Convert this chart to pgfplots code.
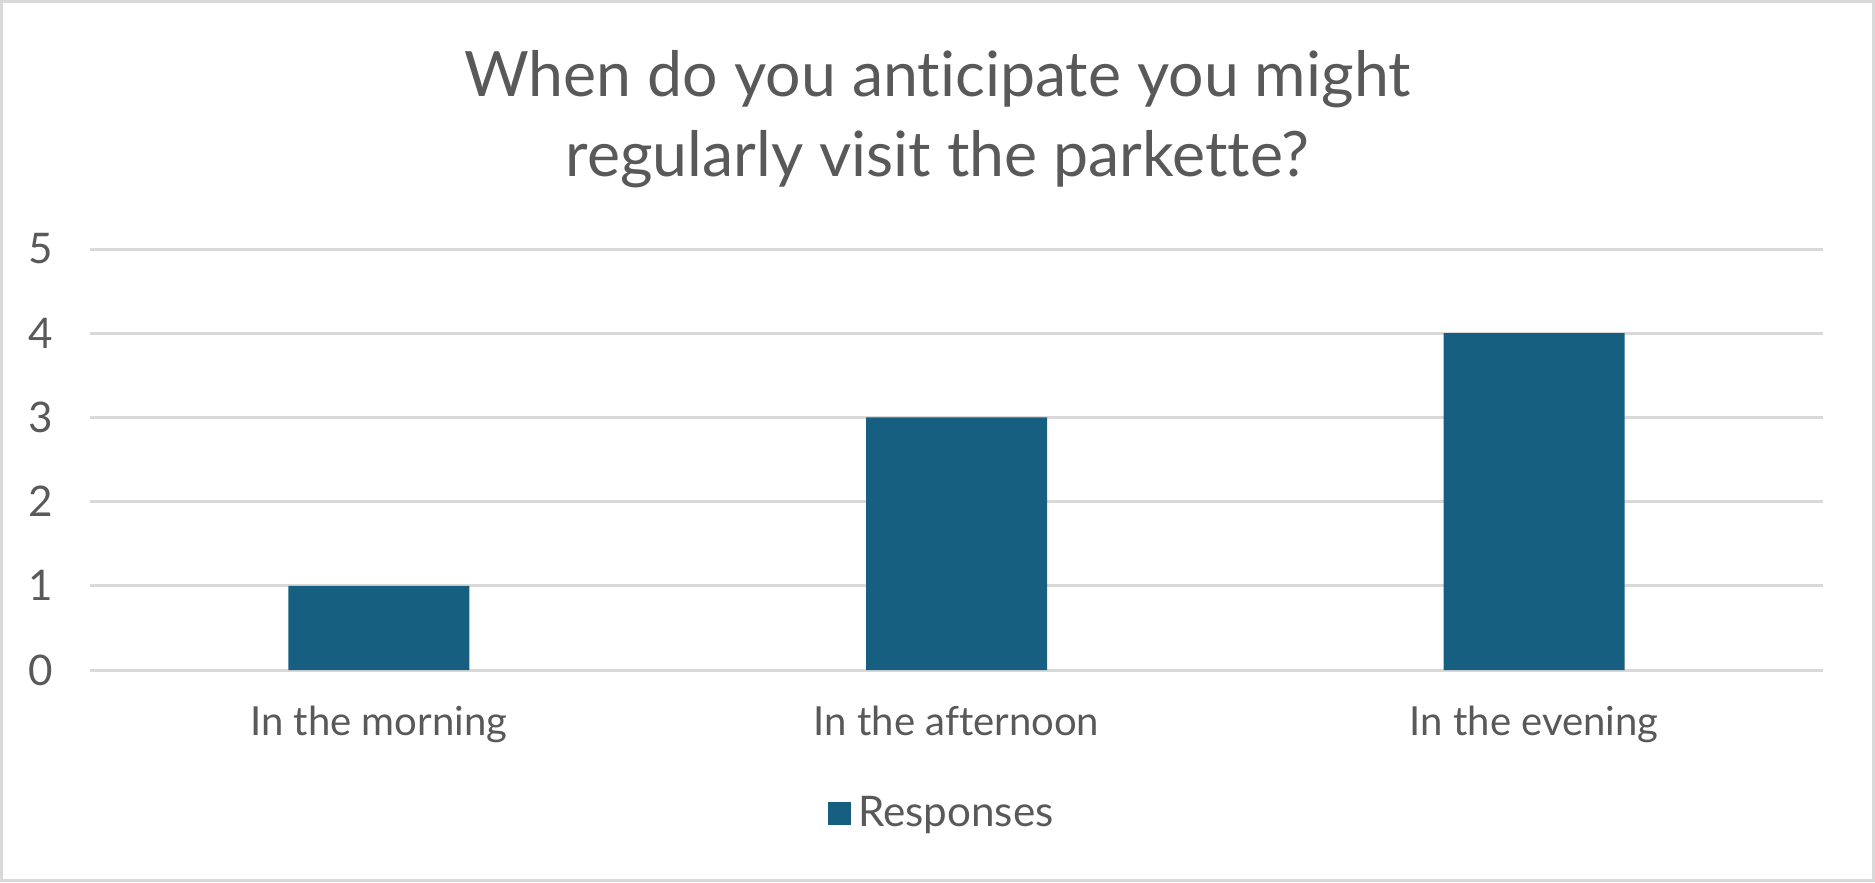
\documentclass[border=0pt]{standalone}
\usepackage{pgfplots}
\pgfplotsset{compat=1.18}
\usepackage{fontspec}
\setmainfont{Lato}[Ligatures=NoCommon]
\definecolor{barblue}{HTML}{175F80}
\definecolor{txtgray}{HTML}{595959}
\definecolor{gridgray}{HTML}{D9D9D9}
\begin{document}
\begin{tikzpicture}[x=1cm,y=1cm]
    % chart frame, 1px = 0.01cm
    \useasboundingbox (0,0) rectangle (18.75,8.82);
    \draw[gridgray, line width=0.03cm] (0.015,0.015) rectangle (18.735,8.805);

    \node[txtgray, font=\fontsize{17.8}{24}\selectfont, align=center, anchor=center]
        at (9.375,7.63) {When do you anticipate you might\\[-0.05cm]regularly visit the parkette?};

    \begin{axis}[
        at={(0.90cm,2.12cm)},
        anchor=south west,
        width=17.33cm,
        height=4.21cm,
        scale only axis,
        ymin=0, ymax=5,
        ytick={0,1,2,3,4,5},
        xmin=-0.5, xmax=2.5,
        xtick=data,
        xticklabels={In the morning, In the afternoon, In the evening},
        axis line style={draw=none},
        major tick length=0pt,
        ymajorgrids,
        grid style={gridgray, line width=0.03cm},
        ticklabel style={txtgray, font=\fontsize{12}{14}\selectfont},
        /pgf/number format/assume math mode=true,
        yticklabel style={xshift=-0.25cm},
        xticklabel style={yshift=-0.24cm, font=\fontsize{11.4}{14}\selectfont},
        ybar,
        bar width=1.81cm,
        legend style={
            at={(0.493,-0.342)}, anchor=center,
            draw=none, fill=none,
            font=\fontsize{12}{14}\selectfont, text=txtgray,
        },
        legend image code/.code={
            \fill[barblue] (0cm,-0.115cm) rectangle (0.23cm,0.115cm);
        },
    ]
        \addplot[fill=barblue, draw=none] coordinates {
            (0, 1)
            (1, 3)
            (2, 4)
        };
        \addlegendentry{Responses}
    \end{axis}
\end{tikzpicture}
\end{document}
